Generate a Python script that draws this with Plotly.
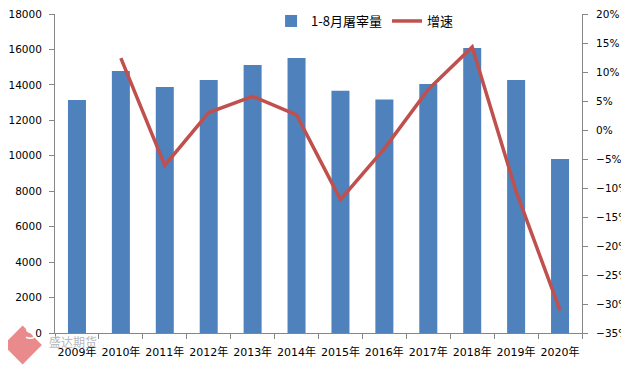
import plotly.graph_objects as go

years = ["2009年", "2010年", "2011年", "2012年", "2013年", "2014年",
         "2015年", "2016年", "2017年", "2018年", "2019年", "2020年"]
slaughter = [13150, 14780, 13880, 14280, 15120, 15520,
             13670, 13170, 14050, 16080, 14280, 9820]
growth = [None, 0.124, -0.061, 0.030, 0.058, 0.026,
          -0.120, -0.032, 0.070, 0.143, -0.106, -0.311]

FONT = "DejaVu Sans, Noto Sans CJK SC, sans-serif"

fig = go.Figure()
fig.add_trace(go.Bar(x=years, y=slaughter, name="1-8月屠宰量",
                     marker=dict(color="#4F81BD", line=dict(width=0)),
                     yaxis="y"))
fig.add_trace(go.Scatter(x=years, y=growth, name="增速", mode="lines",
                         line=dict(color="#C0504D", width=3.5),
                         yaxis="y2"))

axis_line = dict(showline=True, linecolor="#868686", linewidth=1,
                 ticks="outside", ticklen=5, tickcolor="#868686",
                 showgrid=False, zeroline=False)

# page body has an 8px default margin, so the figure is sized/offset to fit
fig.update_layout(
    width=621, height=360,
    margin=dict(l=47, r=47, t=6, b=35, autoexpand=False),
    paper_bgcolor="white", plot_bgcolor="white",
    font=dict(family=FONT, size=10.5, color="#000000"),
    bargap=0.59,
    showlegend=True,
    legend=dict(orientation="h", x=0.41, y=0.978, xanchor="left", yanchor="middle",
                font=dict(family="Noto Sans CJK SC, DejaVu Sans", size=13),
                bgcolor="rgba(0,0,0,0)", itemwidth=30, tracegroupgap=0),
    xaxis=dict(**axis_line, tickson="boundaries", tickangle=0, ticklabelstandoff=9,
               tickfont=dict(family="DejaVu Sans, Noto Sans CJK SC", size=11)),
    yaxis=dict(**axis_line, range=[0, 18000], dtick=2000, tickformat="d",
               ticklabelstandoff=5, ticklabeloverflow="allow"),
    yaxis2=dict(**axis_line, overlaying="y", side="right", ticklabelstandoff=6,
                ticklabeloverflow="allow",
                range=[-0.35, 0.20], dtick=0.05, tickformat=".0%"),
)

# watermark logo approximation
cx, cy, hw, hh = -0.0615, -0.0376, 0.030, 0.050
fig.add_shape(type="path", xref="paper", yref="paper",
              path=f"M {cx} {cy+hh} L {cx+hw} {cy} L {cx} {cy-hh} L {cx-hw} {cy} Z",
              fillcolor="#E98A8C", line=dict(color="#E98A8C", width=5), layer="above")
fig.add_annotation(xref="paper", yref="paper", x=cx, y=cy, text="S",
                   showarrow=False, font=dict(size=18, color="white", family="DejaVu Sans"))
fig.add_annotation(xref="paper", yref="paper", x=-0.015, y=-0.028, text="盛达期货",
                   showarrow=False, xanchor="left", yanchor="middle",
                   font=dict(size=12, color="#B8B8B8", family="Noto Sans CJK SC"))

fig.write_html("out.html")
